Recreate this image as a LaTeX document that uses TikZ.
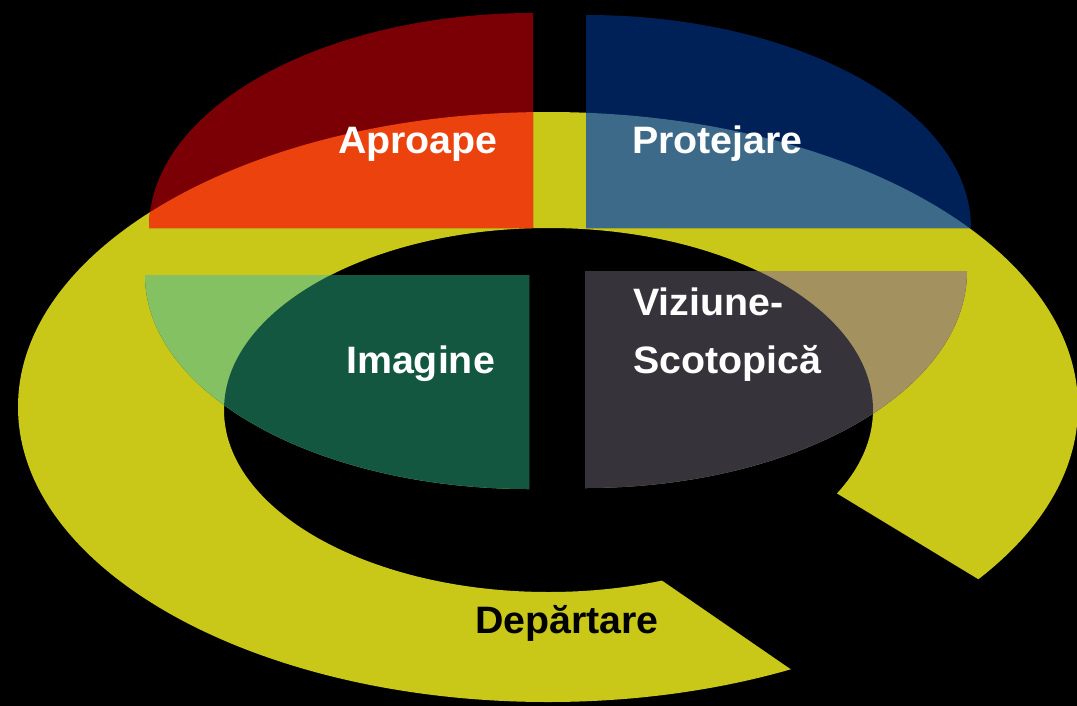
\documentclass[tikz,border=0pt]{standalone}
\usepackage{fontspec}
\setmainfont{Liberation Sans}[FakeStretch=1.03]
\usepackage{xcolor}
\usepackage{tikz}
\usetikzlibrary{positioning}
\definecolor{ringY}{RGB}{201,199,24}
\definecolor{apDark}{RGB}{123,0,6}
\definecolor{apLight}{RGB}{236,66,14}
\definecolor{prDark}{RGB}{0,33,88}
\definecolor{prLight}{RGB}{62,106,137}
\definecolor{imDark}{RGB}{20,87,64}
\definecolor{imLight}{RGB}{131,193,98}
\definecolor{viDark}{RGB}{54,51,58}
\definecolor{viLight}{RGB}{163,145,95}

\begin{document}
\begin{tikzpicture}[x=1pt,y=-1pt,
    lbl/.style={anchor=base west, inner sep=0pt, text=white,
        font=\fontsize{38.2}{58}\selectfont\bfseries}]
\useasboundingbox (0,0) rectangle (1077,705);
\fill[black] (-2,-2) rectangle (1079,707);
\clip (0,0) rectangle (1077,705);
\coordinate (O) at (548,407);
\coordinate (I) at (548.5,410);

% ring with its gap
\fill[ringY, even odd rule] (O) ellipse [x radius=530pt, y radius=295pt]
    (I) ellipse [x radius=324.5pt, y radius=182pt];
\fill[black] (792.5,466.6) -- (1053.5,625) -- (840,703) -- (636.4,562.8) -- cycle;

% four quarters, lighter where they lie on the ring
\foreach \cx/\cy/\sa/\ea/\rx/\ry/\dk/\lt in {533/228/180/90/384/215/apDark/apLight,
    586/228/0/90/385/213/prDark/prLight,
    529/275/180/270/384/214/imDark/imLight,
    585/271/0/-90/382/217/viDark/viLight} {
    \fill[\dk] (\cx,\cy) -- ++(\sa:\rx pt and \ry pt)
        arc[start angle=\sa, end angle=\ea, x radius=\rx pt, y radius=\ry pt] -- cycle;
    \begin{scope}
        \clip (O) ellipse [x radius=530pt, y radius=295pt];
        \fill[\lt] (\cx,\cy) -- ++(\sa:\rx pt and \ry pt)
            arc[start angle=\sa, end angle=\ea, x radius=\rx pt, y radius=\ry pt] -- cycle;
        \clip (I) ellipse [x radius=324.5pt, y radius=182pt];
        \fill[\dk] (\cx,\cy) -- ++(\sa:\rx pt and \ry pt)
            arc[start angle=\sa, end angle=\ea, x radius=\rx pt, y radius=\ry pt] -- cycle;
    \end{scope}
}

\node[lbl] (ap) at (338,153) {Aproape};
\node[lbl] (pr) at (632,153) {Protejare};
\node[lbl] (im) at (346,373) {Imagine};
\node[lbl, align=left] (vi) at (633,373) {Viziune-\\Scotopică};
\node[lbl, text=black] (de) at (475,633) {Depărtare};
\end{tikzpicture}
\end{document}
